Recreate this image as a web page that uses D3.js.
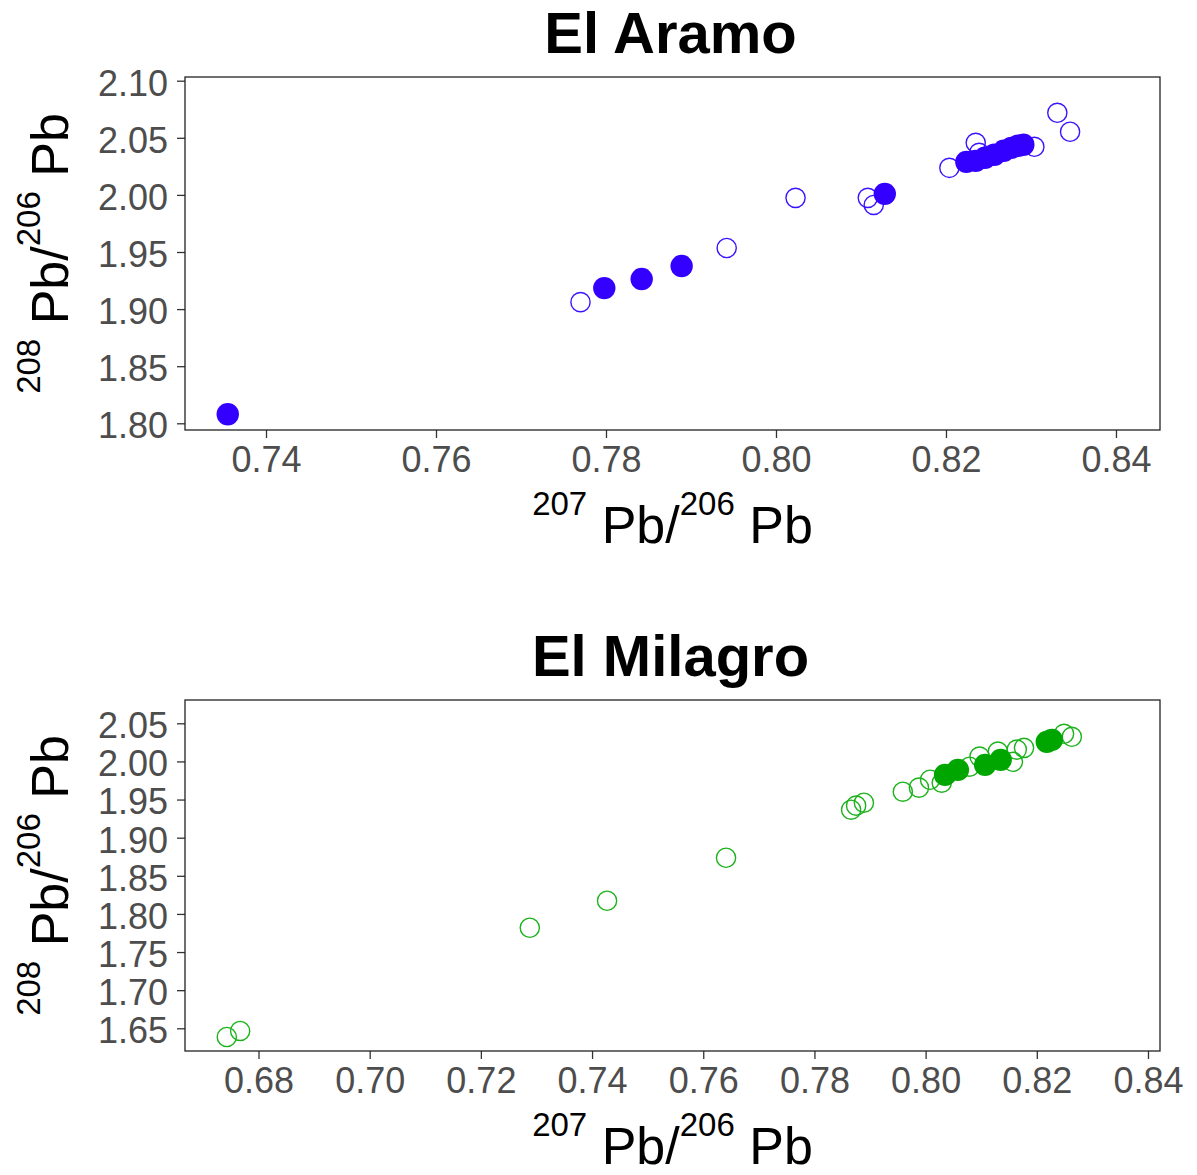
<!DOCTYPE html>
<html>
<head>
<meta charset="utf-8">
<script src="https://cdn.jsdelivr.net/npm/d3@7"></script>
<style>
  html, body { margin: 0; padding: 0; background: #fff; }
  svg { display: block; font-family: "Liberation Sans", Arial, sans-serif; }
</style>
</head>
<body>
<svg id="chart" width="1197" height="1175"></svg>
<script>
// ---------------- data ----------------
const titles = ["El Aramo", "El Milagro"];

// El Aramo (blue)
const aramoOpenX   = [0.7770, 0.7942, 0.8023, 0.8108, 0.8115, 0.8204, 0.8235, 0.8239, 0.8304, 0.8331, 0.8346];
const aramoOpenY   = [1.9061, 1.9535, 1.9974, 1.9974, 1.9912, 2.0237, 2.0456, 2.0368, 2.0421, 2.0719, 2.0553];
const aramoFilledX = [0.7355, 0.7798, 0.7842, 0.7889, 0.8128, 0.8224, 0.8235, 0.8246, 0.8257, 0.8268, 0.8277, 0.8285, 0.8291];
const aramoFilledY = [1.8079, 1.9184, 1.9263, 1.9377, 2.0009, 2.0289, 2.0298, 2.0325, 2.0351, 2.0386, 2.0412, 2.0430, 2.0439];

// El Milagro (green)
const milagroOpenX   = [0.6743, 0.6767, 0.7288, 0.7427, 0.7641, 0.7866, 0.7875, 0.7889, 0.7959, 0.7988, 0.8008, 0.8029, 0.8079, 0.8097, 0.8130, 0.8157, 0.8164, 0.8177, 0.8249, 0.8263];
const milagroOpenY   = [1.6386, 1.6465, 1.7819, 1.8173, 1.8737, 1.9367, 1.9420, 1.9459, 1.9603, 1.9656, 1.9760, 1.9721, 1.9931, 2.0063, 2.0129, 1.9995, 2.0155, 2.0178, 2.0362, 2.0323];
const milagroFilledX = [0.8035, 0.8058, 0.8107, 0.8135, 0.8218, 0.8227];
const milagroFilledY = [1.9823, 1.9889, 1.9955, 2.0020, 2.0257, 2.0283];

// axis limits and ticks
const aramoXDomain = [0.73047, 0.84518];
const aramoYDomain = [1.79413, 2.10324];
const milagroXDomain = [0.66678, 0.84216];
const milagroYDomain = [1.62023, 2.08056];
const aramoXTicks = [0.74, 0.76, 0.78, 0.80, 0.82, 0.84];
const aramoYTicks = [1.80, 1.85, 1.90, 1.95, 2.00, 2.05, 2.10];
const milagroXTicks = [0.68, 0.70, 0.72, 0.74, 0.76, 0.78, 0.80, 0.82, 0.84];
const milagroYTicks = [1.65, 1.70, 1.75, 1.80, 1.85, 1.90, 1.95, 2.00, 2.05];

const colors = ["#3300ff", "#00a600"];
const openColors = ["#3b14ff", "#1cb21c"];

// ---------------- layout ----------------
const svg = d3.select("#chart");
const panels = [
  { title: titles[0], top: 77, bottom: 430,
    xDomain: aramoXDomain, yDomain: aramoYDomain, xTicks: aramoXTicks, yTicks: aramoYTicks,
    openX: aramoOpenX, openY: aramoOpenY, fillX: aramoFilledX, fillY: aramoFilledY },
  { title: titles[1], top: 700, bottom: 1051,
    xDomain: milagroXDomain, yDomain: milagroYDomain, xTicks: milagroXTicks, yTicks: milagroYTicks,
    openX: milagroOpenX, openY: milagroOpenY, fillX: milagroFilledX, fillY: milagroFilledY }
];
const left = 185, right = 1160;
const fmt = d3.format(".2f");

function axisTitle(sel, sup1, sup2) {
  const supSize = 33, mainSize = 52, shift = 28;
  sel.append("tspan").attr("font-size", supSize).attr("dy", -shift).text(sup1);
  sel.append("tspan").attr("font-size", mainSize).attr("dy", shift).text("\u00a0Pb/");
  sel.append("tspan").attr("font-size", supSize).attr("dy", -shift).text(sup2);
  sel.append("tspan").attr("font-size", mainSize).attr("dy", shift).text("\u00a0Pb");
}

panels.forEach((p, i) => {
  const x = d3.scaleLinear().domain(p.xDomain).range([left, right]);
  const y = d3.scaleLinear().domain(p.yDomain).range([p.bottom, p.top]);
  const g = svg.append("g");

  // title
  g.append("text")
    .attr("x", (left + right) / 2 - 2).attr("y", p.top - 24)
    .attr("text-anchor", "middle")
    .attr("font-size", 58).attr("font-weight", "bold").attr("fill", "#000")
    .text(p.title);

  // axes
  const xa = g.append("g").attr("transform", `translate(0,${p.bottom})`)
    .call(d3.axisBottom(x).tickValues(p.xTicks).tickFormat(fmt).tickSize(8).tickPadding(8).tickSizeOuter(0));
  const ya = g.append("g").attr("transform", `translate(${left},0)`)
    .call(d3.axisLeft(y).tickValues(p.yTicks).tickFormat(fmt).tickSize(8).tickPadding(9).tickSizeOuter(0));
  [xa, ya].forEach(a => {
    a.select(".domain").remove();
    a.selectAll(".tick line").attr("stroke", "#333").attr("stroke-width", 1.3);
    a.selectAll(".tick text").attr("font-size", 36).attr("fill", "#4d4d4d")
      .attr("font-family", "'Liberation Sans', Arial, sans-serif");
  });
  ya.selectAll(".tick text").attr("dy", "0.4em");

  // points: open first, filled on top
  const openPts = p.openX.map((v, k) => [v, p.openY[k]]);
  const fillPts = p.fillX.map((v, k) => [v, p.fillY[k]]);
  g.append("g").selectAll("circle").data(openPts).join("circle")
    .attr("cx", d => x(d[0])).attr("cy", d => y(d[1])).attr("r", 9.6)
    .attr("fill", "none").attr("stroke", openColors[i]).attr("stroke-width", 1.4);
  g.append("g").selectAll("circle").data(fillPts).join("circle")
    .attr("cx", d => x(d[0])).attr("cy", d => y(d[1])).attr("r", 11.2)
    .attr("fill", colors[i]);

  // panel border
  g.append("rect")
    .attr("x", left).attr("y", p.top).attr("width", right - left).attr("height", p.bottom - p.top)
    .attr("fill", "none").attr("stroke", "#222").attr("stroke-width", 1.3);

  // x axis title
  const xt = g.append("text")
    .attr("x", (left + right) / 2).attr("y", p.bottom + 113)
    .attr("text-anchor", "middle").attr("fill", "#000");
  axisTitle(xt, "207", "206");

  // y axis title
  const yt = g.append("text")
    .attr("transform", `translate(68,${(p.top + p.bottom) / 2}) rotate(-90)`)
    .attr("text-anchor", "middle").attr("fill", "#000");
  axisTitle(yt, "208", "206");
});
</script>
</body>
</html>
